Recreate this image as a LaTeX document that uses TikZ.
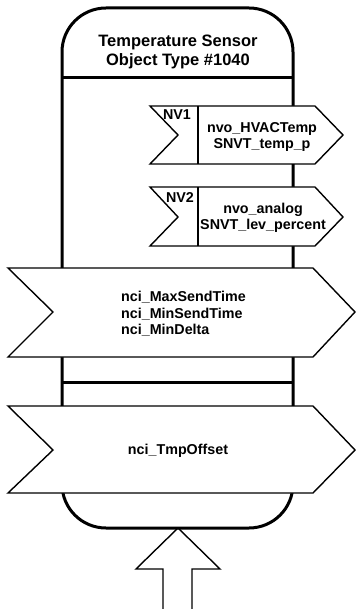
\documentclass[tikz,border=0pt]{standalone}
\usepackage{fontspec}
\setmainfont{Liberation Sans}
\usetikzlibrary{positioning}

\tikzset{
  frame/.style={line width=3pt},
  sigbox/.style={draw, line width=1.4pt, fill=white, line join=miter},
  boxtext/.style={font=\fontsize{14.3}{16.5}\selectfont\bfseries, inner sep=0pt, align=center},
}

\begin{document}
\begin{tikzpicture}[x=1pt,y=-1pt]
\useasboundingbox (0,0) rectangle (357,609);
% object frame
\draw[frame, rounded corners=44pt] (62,8) rectangle (293,528);
\draw[frame] (62,78) -- (293,78);
\draw[frame] (62,382) -- (293,382);
\node[boxtext, font=\fontsize{16.5}{19}\selectfont\bfseries] (title) at (178,52)
  {Temperature Sensor\\Object Type \#1040};

% network variables
\draw[sigbox] (150,106) -- (315,106) -- (343,135) -- (315,164) -- (150,164) -- (178,135) -- cycle;
\draw[line width=1.4pt] (198,106) -- (198,164);
\node[boxtext] (nvone) at (177,115) {NV1};
\node[boxtext] (hvac) at (262,137) {nvo\_HVACTemp\\SNVT\_temp\_p};

\draw[sigbox] (150,187) -- (315,187) -- (343,217) -- (315,246) -- (150,246) -- (178,217) -- cycle;
\draw[line width=1.4pt] (198,187) -- (198,246);
\node[boxtext] (nvtwo) at (180,198) {NV2};
\node[boxtext] (analog) at (263,218) {nvo\_analog\\SNVT\_lev\_percent};

% configuration
\draw[sigbox] (8,268) -- (313,268) -- (355,312) -- (313,357) -- (8,357) -- (53,312) -- cycle;
\node[boxtext, align=left, anchor=west] (sendtime) at (121,314)
  {nci\_MaxSendTime\\nci\_MinSendTime\\nci\_MinDelta};

\draw[sigbox] (8,406) -- (313,406) -- (355,450) -- (313,493) -- (8,493) -- (53,450) -- cycle;
\node[boxtext] (offset) at (178,451) {nci\_TmpOffset};

% input arrow
\coordinate (arrowtip) at (178,528);
\draw[line width=1.4pt, line join=miter] (163,612) -- (163,569) -- (136,569) -- (arrowtip)
  -- (220,569) -- (192,569) -- (192,612);
\end{tikzpicture}
\end{document}
